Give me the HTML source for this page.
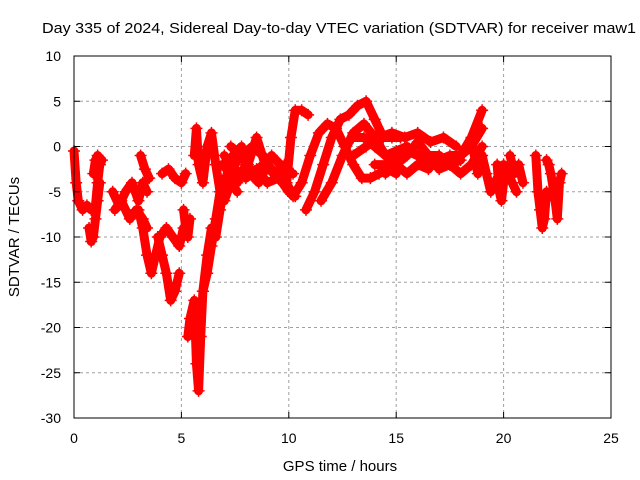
<!DOCTYPE html>
<html><head><meta charset="utf-8"><style>
body{margin:0;background:#fff;}
svg{display:block;font-family:"Liberation Sans",sans-serif;}
</style></head><body>
<svg id="chart" width="640" height="480" xmlns="http://www.w3.org/2000/svg">
<rect width="640" height="480" fill="#fff"/>
<text x="42" y="33" font-size="15" textLength="594" lengthAdjust="spacingAndGlyphs">Day 335 of 2024, Sidereal Day-to-day VTEC variation (SDTVAR) for receiver maw1</text>
<text x="340" y="471" font-size="15" text-anchor="middle">GPS time / hours</text>
<text transform="translate(19,237) rotate(-90)" font-size="15" text-anchor="middle">SDTVAR / TECUs</text>
<g id="grid"></g><g id="marks"></g><g id="axes"></g>
</svg>
<script>
const xTicks=[0,5,10,15,20,25];
const yTicks=[10,5,0,-5,-10,-15,-20,-25,-30];
const t1=[0,0.1,0.2,0.4,0.6,0.8,1.0,1.1,1.2,1.3], v1=[-0.5,-4,-6,-7,-6.5,-7,-6.5,-4,-2,-1.5];
const t2=[0.7,0.8,0.9,1.0,1.1,1.2], v2=[-9,-10.5,-10,-8,-6,-4];
const t3=[1.8,2.1,2.4,2.7,3.0,3.2,3.4], v3=[-5,-6.5,-5,-4,-6,-4,-5];
const t4=[3.1,3.3,3.5], v4=[-1,-2.5,-3.5];
const t5=[3.0,3.2,3.4,3.6,3.8,4.0,4.3,4.6,4.9,5.1], v5=[-7,-9,-12,-14,-12,-10,-9,-10,-11,-9];
const t6=[3.9,4.1,4.3,4.5,4.7,4.9], v6=[-10,-12,-14,-17,-16,-14];
const t7=[4.1,4.4,4.7,5.0,5.2], v7=[-3,-2.5,-3.5,-4,-3];
const t8=[5.1,5.2,5.3,5.4], v8=[-7,-9,-10,-8];
const t9=[5.3,5.4,5.6,5.7,5.8,5.9,6.0,6.2,6.4,6.6,6.8], v9=[-21,-19,-17,-24,-27,-21,-16,-14,-11,-8,-5];
const t10=[6.0,6.2,6.4,6.6,6.8,7.0], v10=[-16,-12,-9,-10,-7,-4];
const t11=[5.6,5.7,5.8,6.0,6.2,6.4,6.6,6.8,7.0,7.3,7.6], v11=[-1,2,-2,-4,0,1.5,-2,-5,-6,-4,-5];
const t12=[6.9,7.3,7.7,8.1,8.5,8.9,9.3,9.7,10.0,10.3], v12=[-2,-3,-1,-2,1,-2,-3,-4,-5,-5.5];
const t13=[7.0,7.4,7.8,8.2,8.6,9.0,9.4,9.8,10.2], v13=[-4,-1,0,-3,-4,-2,-3,-3,-3];
const t14=[7.2,7.6,8.0,8.4,8.8,9.2,9.6,9.9,10.1,10.3,10.6,10.9], v14=[-3,-4,-2,-3,-2,-1,-2,-4,1,4,4,3.5];
const t15=[10.2,10.6,11.0,11.4,11.8,12.2,12.6,13.0,13.4,13.8,14.2,14.6,15.0], v15=[-5.5,-4,-1,1.5,2.5,2,0,-2,-3.5,-3.5,-3,-2.5,-3];
const t16=[10.8,11.2,11.6,12.0,12.4,12.8,13.2,13.6,14.0,14.4,14.8,15.2], v16=[-7,-5,-2,1,3,3.5,4.5,5,3,1,1,1];
const t17=[11.5,12,12.5,13,13.5,14,14.5,15,15.5,16,16.5,17,17.5,18,18.5,19], v17=[-6,-4,-1,1.5,2.5,1,-1,-2,-1,0.5,-1,-1,-2,-1,1,4];
const t18=[13,13.5,14,14.5,15,15.5,16,16.5,17,17.5,18,18.5,19], v18=[1,1,0,-1,-0.5,0,-1,-2,-1.5,-1,-1,0,2];
const t19=[14,14.5,15,15.5,16,16.5,17,17.5,18,18.5,19], v19=[-2,-2,-1,-0.5,-1,-1,-2.5,-2,-3,-2,0];
const t20=[18.6,18.8,19.0,19.2,19.4,19.6,19.8,20.0,20.2,20.4], v20=[-0.5,-3,-1,-3,-5,-4,-3,-2,-3,-2];
const t21=[19.7,19.8,19.9,20.0,20.2,20.4,20.6], v21=[-2,-5,-6,-4,-3,-4,-5];
const t22=[21.5,21.6,21.7,21.8,21.9,22.0], v22=[-1,-5,-7,-9,-8,-5];
const t23=[22.0,22.1,22.2,22.4,22.5,22.6,22.7], v23=[-1.5,-2,-3,-6,-8,-4,-3];
const t24=[0.9,1.0,1.1,1.2], v24=[-3,-1.5,-1,-2];
const t25=[7.0,7.5,8.0,8.5,9.0,9.5,10.0], v25=[-1,-2.5,-3.5,-2.5,-4,-3.5,-4.5];
const t26=[7.3,7.8,8.3,8.8,9.3,9.8], v26=[0,-1,0,-1,-3,-2];
const t27=[13.0,13.6,14.2,14.8,15.4,16.0,16.6,17.2,17.8], v27=[-1,0,1,1.5,1,1.5,0.5,1,0];
const t28=[14.5,15.0,15.5,16.0,16.5,17.0,17.5,18.0], v28=[-3,-2,-3,-2,-2.5,-1,-2,-1.5];
const t29=[20.3,20.5,20.7,20.9], v29=[-1,-3,-2,-4];
const t30=[1.9,2.2,2.6,2.9,3.2,3.4], v30=[-7,-6,-8,-7,-8,-9];
const tracks=[[t1,v1],[t2,v2],[t3,v3],[t4,v4],[t5,v5],[t6,v6],[t7,v7],[t8,v8],[t9,v9],[t10,v10],[t11,v11],[t12,v12],[t13,v13],[t14,v14],[t15,v15],[t16,v16],[t17,v17],[t18,v18],[t19,v19],[t20,v20],[t21,v21],[t22,v22],[t23,v23],[t24,v24],[t25,v25],[t26,v26],[t27,v27],[t28,v28],[t29,v29],[t30,v30]];
const X0=74,X1=611,Y0=418,Y1=56;
function xs(t){return X0+(t-0)/(25-0)*(X1-X0);}
function ys(v){return Y0-(v+30)/40*(Y0-Y1);}
const NS="http://www.w3.org/2000/svg";
function mk(tag,attrs,parent){const e=document.createElementNS(NS,tag);for(const k in attrs)e.setAttribute(k,attrs[k]);parent.appendChild(e);return e;}
const grid=document.getElementById('grid'),axes=document.getElementById('axes'),marks=document.getElementById('marks');
xTicks.forEach(t=>{
 const x=xs(t);
 if(t>0&&t<25){const g=mk('line',{x1:x,x2:x,y1:Y1,y2:Y0,stroke:'#a0a0a0','stroke-dasharray':'3,3'},grid);
 
 }
 mk('line',{x1:x,x2:x,y1:Y0,y2:Y0-6,stroke:'#000'},axes);
 mk('line',{x1:x,x2:x,y1:Y1,y2:Y1+6,stroke:'#000'},axes);
 const l=mk('text',{x:x,y:443,'font-size':14,'text-anchor':'middle'},axes);l.textContent=t;
 
 
});
yTicks.forEach(v=>{
 const y=ys(v);
 if(v>-30&&v<10){const g=mk('line',{x1:X0,x2:X1,y1:y,y2:y,stroke:'#a0a0a0','stroke-dasharray':'3,3'},grid);
 
 }
 mk('line',{x1:X0,x2:X0+6,y1:y,y2:y,stroke:'#000'},axes);
 mk('line',{x1:X1,x2:X1-6,y1:y,y2:y,stroke:'#000'},axes);
 const l=mk('text',{x:61,y:y+5,'font-size':14,'text-anchor':'end'},axes);l.textContent=v;
 
 
});
const box=mk('rect',{x:X0,y:Y1,width:X1-X0,height:Y0-Y1,fill:'none',stroke:'#000'},axes);


tracks.forEach(([ts,vs])=>{
 const pts=ts.map((t,i)=>xs(t)+','+ys(vs[i])).join(' ');
 const pl=mk('polyline',{points:pts,fill:'none',stroke:'#ff0000','stroke-width':9,'stroke-linejoin':'round','stroke-linecap':'round'},marks);
 
 
 ts.forEach((t,i)=>{
  const x=xs(t),y=ys(vs[i]);
  const p=mk('path',{d:`M${x-6},${y}H${x+6}M${x},${y-6}V${y+6}`,stroke:'#ff0000','stroke-width':1.5},marks);
  
  
 });
});
</script>
</body></html>
